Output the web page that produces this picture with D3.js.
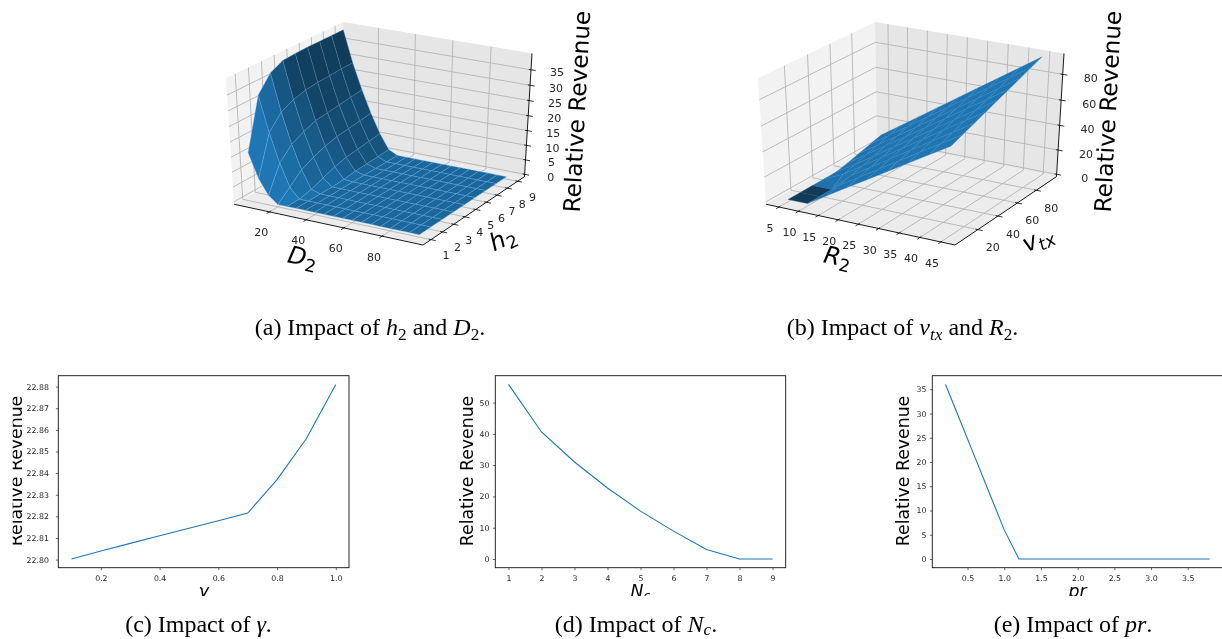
<!DOCTYPE html>
<html>
<head>
<meta charset="utf-8">
<script src="https://cdnjs.cloudflare.com/ajax/libs/d3/7.8.5/d3.min.js"></script>
<style>
  html, body { margin: 0; padding: 0; background: #fff; }
  svg { display: block; filter: blur(0.35px); }
  text { font-family: "DejaVu Sans", sans-serif; fill: #000; }
</style>
</head>
<body>
<svg id="chart" width="1222" height="639"></svg>
<script>
// panel (a): rows are h2, columns are D2
const d2Values = [5, 10, 15, 20, 25, 30, 35, 40, 45, 50, 55, 60, 65, 70, 75, 80, 85, 90, 95];
const h2Values = [1, 2, 3, 4, 5, 6, 7, 8, 9];
const revenueA = [
  [15.5, 7.5, 2.5, 0, 0, 0, 0, 0, 0, 0, 0, 0, 0, 0, 0, 0, 0, 0, 0],
  [32, 20.5, 11, 3.5, 0, 0, 0, 0, 0, 0, 0, 0, 0, 0, 0, 0, 0, 0, 0],
  [37, 25, 15, 7, 1, 0, 0, 0, 0, 0, 0, 0, 0, 0, 0, 0, 0, 0, 0],
  [39, 27, 17, 9, 2.5, 0, 0, 0, 0, 0, 0, 0, 0, 0, 0, 0, 0, 0, 0],
  [39.3, 28, 18.5, 10.5, 4, 0.3, 0, 0, 0, 0, 0, 0, 0, 0, 0, 0, 0, 0, 0],
  [39.4, 28.5, 19, 11.5, 5, 0.8, 0, 0, 0, 0, 0, 0, 0, 0, 0, 0, 0, 0, 0],
  [39.4, 28.7, 19.5, 12, 5.5, 1, 0, 0, 0, 0, 0, 0, 0, 0, 0, 0, 0, 0, 0],
  [39.4, 29, 20, 12.5, 6, 1.2, 0, 0, 0, 0, 0, 0, 0, 0, 0, 0, 0, 0, 0],
  [39.4, 29, 20.5, 13, 6.5, 1.5, 0, 0, 0, 0, 0, 0, 0, 0, 0, 0, 0, 0, 0]
];
const d2Ticks = [20, 40, 60, 80];
const h2Ticks = [1, 2, 3, 4, 5, 6, 7, 8, 9];
const zTicksA = [0, 5, 10, 15, 20, 25, 30, 35];

// panel (b): rows are v_tx, columns are R2
const r2Values = [5, 10, 15, 20, 25, 30, 35, 40, 45];
const vtxValues = [6, 17, 28, 39, 50, 61, 72, 83, 94];
const revenueB = [
  [0, 0, 9.75, 19.4, 29, 38.6, 48.3, 57.9, 67.5],
  [0, 0, 12.2, 22, 31.8, 41.6, 51.3, 61.1, 70.9],
  [0, 0, 14.6, 24.6, 34.6, 44.5, 54.5, 64.4, 74.4],
  [0, 7, 17.1, 27.2, 37.3, 47.4, 57.6, 67.7, 77.8],
  [0, 9.5, 19.7, 30, 40.2, 50.5, 60.8, 71, 81.3],
  [2, 12.3, 22.6, 32.9, 43.2, 53.5, 63.8, 74.3, 84.7],
  [4.5, 14.8, 25.2, 35.6, 46, 56.5, 67, 77.5, 88.1],
  [7, 17.6, 28.1, 38.7, 49.3, 59.8, 70.4, 81, 91.6],
  [9.5, 20.2, 30.9, 41.6, 52.3, 63, 73.6, 84.3, 95]
];
const r2Ticks = [5, 10, 15, 20, 25, 30, 35, 40, 45];
const vtxTicks = [20, 40, 60, 80];
const zTicksB = [0, 20, 40, 60, 80];

// line panels
const gammaX = [0.1, 0.2, 0.3, 0.4, 0.5, 0.6, 0.7, 0.8, 0.9, 1.0];
const gammaY = [22.8003, 22.804, 22.8075, 22.811, 22.8145, 22.818, 22.8215, 22.837, 22.856, 22.881];
const gammaTicksX = [0.2, 0.4, 0.6, 0.8, 1.0];
const gammaTicksY = [22.80, 22.81, 22.82, 22.83, 22.84, 22.85, 22.86, 22.87, 22.88];
const ncX = [1, 2, 3, 4, 5, 6, 7, 8, 9];
const ncY = [55.8, 40.6, 31, 22.7, 15.3, 8.9, 3, 0, 0];
const ncTicksX = [1, 2, 3, 4, 5, 6, 7, 8, 9];
const ncTicksY = [0, 10, 20, 30, 40, 50];
const prX = [0.2, 0.4, 0.6, 0.8, 1.0, 1.2, 1.4, 1.6, 1.8, 2.0, 2.2, 2.4, 2.6, 2.8, 3.0, 3.2, 3.4, 3.6, 3.8];
const prY = [36, 28.5, 21, 13.5, 6, 0, 0, 0, 0, 0, 0, 0, 0, 0, 0, 0, 0, 0, 0];
const prTicksX = [0.5, 1.0, 1.5, 2.0, 2.5, 3.0, 3.5];
const prTicksY = [0, 5, 10, 15, 20, 25, 30, 35];

const BLUE = [31, 119, 180];
const svg = d3.select("#chart");

// text made of plain, italic and subscript runs
function richText(g, x, y, runs, size, family, anchor, rotate, subDrop) {
  const drop = size * (subDrop || 0.2);
  const t = g.append("text")
    .attr("transform", `translate(${x},${y}) rotate(${rotate || 0})`)
    .attr("text-anchor", anchor || "middle")
    .style("font-family", family)
    .style("font-size", size + "px");
  runs.forEach(r => {
    const s = t.append("tspan").text(r.t);
    if (r.i) s.style("font-style", "italic");
    if (r.sub) s.style("font-size", (size * 0.72) + "px").attr("dy", drop);
    if (r.up) s.attr("dy", -drop);
  });
  return t;
}

function surfacePanel(o) {
  const g = svg.append("g");
  const cu = d3.scaleLinear().domain(o.xlim).range([0, 1]);
  const cv = d3.scaleLinear().domain(o.ylim).range([0, 1]);
  const cw = d3.scaleLinear().domain(o.zlim).range([0, 1]);

  // matplotlib's default view: elev 30, azim -60, dist 10
  const el = 30 * Math.PI / 180, az = -60 * Math.PI / 180, dist = 10;
  const n = [Math.cos(el) * Math.cos(az), Math.cos(el) * Math.sin(az), Math.sin(el)];
  const eye = [0.5 + dist * n[0], 0.5 + dist * n[1], 0.5 + dist * n[2]];
  const cross = (a, b) => [a[1] * b[2] - a[2] * b[1], a[2] * b[0] - a[0] * b[2], a[0] * b[1] - a[1] * b[0]];
  const dot = (a, b) => a[0] * b[0] + a[1] * b[1] + a[2] * b[2];
  const unit = a => { const m = Math.hypot(a[0], a[1], a[2]); return a.map(c => c / m); };
  const uu = unit(cross([0, 0, 1], n));
  const vv = cross(n, uu);
  const raw = p => {
    const d = [p[0] - eye[0], p[1] - eye[1], p[2] - eye[2]];
    const w = -dot(n, d);
    return [dot(uu, d) / w, dot(vv, d) / w, w];
  };

  const lo = -1 / 48, hi = 49 / 48;
  const sx = d3.scaleLinear()
    .domain([raw([lo, lo, hi])[0], raw([hi, hi, hi])[0]])
    .range([o.leftTopX, o.rightTopX]);
  const sy = d3.scaleLinear()
    .domain([raw([hi, lo, lo])[1], raw([lo, hi, hi])[1]])
    .range([o.frontY, o.backTopY]);
  const P = p => { const r = raw(p); return [sx(r[0]), sy(r[1])]; };
  const line = (a, b, stroke, width) => {
    const p = P(a), q = P(b);
    g.append("line").attr("x1", p[0]).attr("y1", p[1]).attr("x2", q[0]).attr("y2", q[1])
      .attr("stroke", stroke).attr("stroke-width", width);
  };
  const pane = (pts, fill) => g.append("polygon")
    .attr("points", pts.map(P).map(d => d.join(",")).join(" "))
    .attr("fill", fill);

  pane([[lo, lo, lo], [lo, hi, lo], [lo, hi, hi], [lo, lo, hi]], "#f2f2f2");
  pane([[lo, hi, lo], [hi, hi, lo], [hi, hi, hi], [lo, hi, hi]], "#e6e6e6");
  pane([[lo, lo, lo], [hi, lo, lo], [hi, hi, lo], [lo, hi, lo]], "#ececec");

  const gridColor = "#b4b4b4", gw = 0.9;
  o.xTicks.forEach(t => {
    const u = cu(t);
    line([u, lo, lo], [u, hi, lo], gridColor, gw);
    line([u, hi, lo], [u, hi, hi], gridColor, gw);
  });
  o.yTicks.forEach(t => {
    const v = cv(t);
    line([lo, v, lo], [hi, v, lo], gridColor, gw);
    line([lo, v, lo], [lo, v, hi], gridColor, gw);
  });
  o.zTicks.forEach(t => {
    const w = cw(t);
    line([lo, lo, w], [lo, hi, w], gridColor, gw);
    line([lo, hi, w], [hi, hi, w], gridColor, gw);
  });

  // axis lines, ticks and tick labels
  line([lo, lo, lo], [hi, lo, lo], "#000", 0.9);
  line([hi, lo, lo], [hi, hi, lo], "#000", 0.9);
  line([hi, hi, lo], [hi, hi, hi], "#000", 0.9);
  const tickText = (p, label) => g.append("text")
    .attr("x", p[0]).attr("y", p[1])
    .attr("text-anchor", "middle").attr("dominant-baseline", "central")
    .style("font-size", "11px").style("fill", "#262626").text(label);
  o.xTicks.forEach(t => {
    const u = cu(t);
    line([u, lo + 0.012, lo], [u, lo - 0.025, lo], "#000", 0.8);
    const p = P([u, lo, lo]);
    tickText([p[0] + o.xOff[0], p[1] + o.xOff[1]], t);
  });
  o.yTicks.forEach(t => {
    const v = cv(t);
    line([hi - 0.012, v, lo], [hi + 0.025, v, lo], "#000", 0.8);
    const p = P([hi, v, lo]);
    tickText([p[0] + o.yOff[0], p[1] + o.yOff[1]], t);
  });
  o.zTicks.forEach(t => {
    const w = cw(t);
    line([hi - 0.012, hi, w], [hi + 0.025, hi, w], "#000", 0.8);
    const p = P([hi, hi, w]);
    tickText([p[0] + o.zOff[0], p[1] + o.zOff[1]], t);
  });

  // surface facets, shaded in data units the way old mplot3d does
  const light = [-1, -1, 0.5];
  const quads = [];
  for (let j = 0; j < o.ys.length - 1; j++) {
    for (let i = 0; i < o.xs.length - 1; i++) {
      const corners = [[i, j], [i + 1, j], [i + 1, j + 1], [i, j + 1]]
        .map(([a, b]) => [o.xs[a], o.ys[b], o.zs[b][a]]);
      const [c0, c1, c2, c3] = corners;
      const nrm = unit(cross(
        [c2[0] - c0[0], c2[1] - c0[1], c2[2] - c0[2]],
        [c3[0] - c1[0], c3[1] - c1[1], c3[2] - c1[2]]));
      const cube = corners.map(c => [cu(c[0]), cv(c[1]), cw(c[2])]);
      const depth = d3.mean(cube, c => raw(c)[2]);
      quads.push({ pts: cube.map(P), shade: dot(nrm, light), depth });
    }
  }
  const norm = d3.scaleLinear().domain(d3.extent(quads, q => q.shade)).range([0.5, 1]);
  g.append("g").selectAll("polygon")
    .data(quads.sort((a, b) => d3.descending(a.depth, b.depth)))
    .join("polygon")
    .attr("points", d => d.pts.map(p => p.join(",")).join(" "))
    .attr("fill", d => { const k = norm(d.shade); return `rgb(${BLUE.map(c => c * k).join(",")})`; })
    .attr("stroke", d => { const k = norm(d.shade); return `rgb(${BLUE.map(c => c * k + o.seam).join(",")})`; })
    .attr("stroke-width", 0.35)
    .attr("stroke-linejoin", "round");

  // axis labels
  richText(g, o.xLabel[0], o.xLabel[1], o.xRuns, 24, "DejaVu Sans", "middle", o.xLabel[2]);
  richText(g, o.yLabel[0], o.yLabel[1], o.yRuns, 24, "DejaVu Sans", "middle", o.yLabel[2]);
  richText(g, o.zLabel[0], o.zLabel[1], [{ t: "Relative Revenue" }], 23.2, "DejaVu Sans", "middle", -87);
}

surfacePanel({
  xs: d2Values, ys: h2Values, zs: revenueA, seam: 70,
  xlim: [2.5, 99], ylim: [0.5, 9.5], zlim: [0, 39.4],
  xTicks: d2Ticks, yTicks: h2Ticks, zTicks: zTicksA,
  leftTopX: 226, rightTopX: 532, frontY: 245, backTopY: 22,
  xOff: [-8, 21], yOff: [15, 16], zOff: [26, 3],
  xRuns: [{ t: "D", i: 1 }, { t: "2", sub: 1 }], xLabel: [301, 265, 12],
  yRuns: [{ t: "h", i: 1 }, { t: "2", sub: 1 }], yLabel: [506, 246, -25],
  zLabel: [585, 112]
});

surfacePanel({
  xs: r2Values, ys: vtxValues, zs: revenueB, seam: 18,
  xlim: [2.6, 47.4], ylim: [0, 100], zlim: [0, 94],
  xTicks: r2Ticks, yTicks: vtxTicks, zTicks: zTicksB,
  leftTopX: 758, rightTopX: 1064, frontY: 245, backTopY: 22,
  xOff: [-9, 21.5], yOff: [15, 18], zOff: [28, 4],
  xRuns: [{ t: "R", i: 1 }, { t: "2", sub: 1 }], xLabel: [836, 265, 12],
  yRuns: [{ t: "v", i: 1 }, { t: "tx", i: 1, sub: 1 }], yLabel: [1041, 246, -25],
  zLabel: [1116, 112]
});

function linePanel(o) {
  const g = svg.append("g");
  const top = 375.7, bottom = 567.7;
  const w = o.right - o.left, h = bottom - top;
  const x = d3.scaleLinear().domain(d3.extent(o.xs)).range([o.left + w / 22, o.right - w / 22]);
  const y = d3.scaleLinear().domain(d3.extent(o.ys)).range([bottom - h / 22, top + h / 22]);
  const id = "clip" + Math.round(o.left);
  g.append("clipPath").attr("id", id)
    .append("rect").attr("x", o.clipLeft).attr("y", 360).attr("width", 1222 - o.clipLeft).attr("height", 236);
  const inner = g.append("g").attr("clip-path", `url(#${id})`);

  const xAxis = inner.append("g").attr("transform", `translate(0,${bottom})`)
    .call(d3.axisBottom(x).tickValues(o.xTicks).tickFormat(o.xFmt).tickSize(2.4).tickPadding(5));
  const yAxis = inner.append("g").attr("transform", `translate(${o.left},0)`)
    .call(d3.axisLeft(y).tickValues(o.yTicks).tickFormat(o.yFmt).tickSize(2.4).tickPadding(o.yPad));
  [xAxis, yAxis].forEach(a => {
    a.select(".domain").remove();
    a.selectAll("text").style("font-size", "7.8px").style("font-family", "DejaVu Sans").style("fill", "#262626");
    a.selectAll("line").attr("stroke-width", 0.6);
  });
  inner.append("rect").attr("x", o.left).attr("y", top).attr("width", w).attr("height", h)
    .attr("fill", "none").attr("stroke", "#111").attr("stroke-width", 0.9);
  inner.append("path")
    .attr("d", d3.line().x((d, i) => x(o.xs[i])).y(d => y(d))(o.ys))
    .attr("fill", "none").attr("stroke", "#1f77b4").attr("stroke-width", 1.1);

  richText(inner, o.labelX, 471, [{ t: "Relative Revenue" }], 17.3, "DejaVu Sans", "middle", -90);
  richText(inner, (o.left + o.right) / 2, 597, o.xRuns, 17.3, "DejaVu Sans", "middle");
}

linePanel({
  xs: gammaX, ys: gammaY, left: 58.3, right: 349, clipLeft: 12.7, labelX: 21.7, yPad: 7,
  xTicks: gammaTicksX, yTicks: gammaTicksY, xFmt: d3.format(".1f"), yFmt: d3.format(".2f"),
  xRuns: [{ t: "γ", i: 1 }]
});
linePanel({
  xs: ncX, ys: ncY, left: 495.3, right: 785.7, clipLeft: 440, labelX: 472.7, yPad: 3.5,
  xTicks: ncTicksX, yTicks: ncTicksY, xFmt: d3.format("d"), yFmt: d3.format("d"),
  xRuns: [{ t: "N", i: 1 }, { t: "c", i: 1, sub: 1 }]
});
linePanel({
  xs: prX, ys: prY, left: 932.3, right: 1223, clipLeft: 880, labelX: 909, yPad: 3.5,
  xTicks: prTicksX, yTicks: prTicksY, xFmt: d3.format(".1f"), yFmt: d3.format("d"),
  xRuns: [{ t: "pr", i: 1 }]
});

// captions
const serif = '"Liberation Serif", serif';
const capSize = 24;
richText(svg, 370, 335, [{ t: "(a) Impact of " }, { t: "h", i: 1 }, { t: "2", sub: 1 }, { t: " and ", up: 1 }, { t: "D", i: 1 }, { t: "2", sub: 1 }, { t: ".", up: 1 }], capSize, serif);
richText(svg, 902.5, 335, [{ t: "(b) Impact of " }, { t: "v", i: 1 }, { t: "tx", i: 1, sub: 1 }, { t: " and ", up: 1 }, { t: "R", i: 1 }, { t: "2", sub: 1 }, { t: ".", up: 1 }], capSize, serif);
richText(svg, 198.5, 632, [{ t: "(c) Impact of " }, { t: "γ", i: 1 }, { t: "." }], capSize, serif);
richText(svg, 636, 632, [{ t: "(d) Impact of " }, { t: "N", i: 1 }, { t: "c", i: 1, sub: 1 }, { t: ".", up: 1 }], capSize, serif, "middle", 0, 0.12);
richText(svg, 1073, 632, [{ t: "(e) Impact of " }, { t: "pr", i: 1 }, { t: "." }], capSize, serif);
</script>
</body>
</html>
